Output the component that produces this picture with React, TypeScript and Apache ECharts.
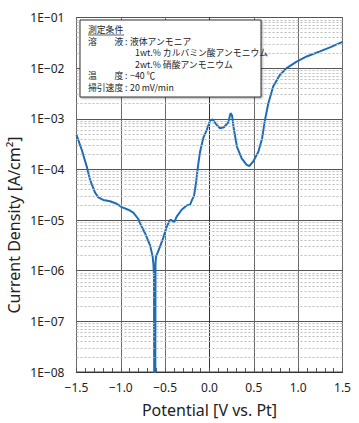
import React, { useEffect, useRef } from "react";
import * as echarts from "echarts";

// Potential [V vs. Pt]
const potential: number[] = [
  -1.5, -1.441, -1.385, -1.348, -1.291, -1.254, -1.198, -1.122, -1.047, -0.99,
  -0.916, -0.859, -0.803, -0.784, -0.727, -0.671, -0.641, -0.632,
  -0.626, -0.623, -0.620, -0.618, -0.615, -0.612, -0.609, -0.603,
  -0.596, -0.558, -0.521, -0.483, -0.446, -0.427, -0.4, -0.37, -0.314, -0.257,
  -0.22, -0.197, -0.175, -0.152, -0.126, -0.107, -0.07, -0.032, 0.006, 0.034,
  0.081, 0.118, 0.163, 0.212, 0.237, 0.254, 0.276, 0.31, 0.363, 0.419,
  0.451, 0.494, 0.55, 0.592, 0.626, 0.663, 0.719, 0.795, 0.87, 0.983,
  1.096, 1.246, 1.359, 1.5,
];
// Current Density [A/cm2]
const current: number[] = [
  4.8e-4, 2.45e-4, 1.15e-4, 6.3e-5, 3.5e-5, 2.8e-5, 2.5e-5, 2.35e-5, 2.1e-5, 1.8e-5,
  1.6e-5, 1.4e-5, 1.05e-5, 8.7e-6, 5.5e-6, 3.2e-6, 1.9e-6, 1.3e-6,
  8e-7, 1e-9, 2e-7, 1e-9, 4e-8, 1e-9, 1.4e-6, 1.9e-6,
  1.9e-6, 3.0e-6, 4.5e-6, 7.4e-6, 1.0e-5, 1.0e-5, 8.9e-6, 1.17e-5, 1.6e-5, 1.95e-5,
  2.0e-5, 2.5e-5, 3.0e-5, 5.4e-5, 1.3e-4, 2.2e-4, 4.2e-4, 6.0e-4, 9.1e-4, 9.8e-4,
  7.6e-4, 6.5e-4, 6.8e-4, 8.5e-4, 1.29e-3, 1.17e-3, 6.0e-4, 2.8e-4, 1.66e-4, 1.23e-4,
  1.17e-4, 1.45e-4, 2.2e-4, 4.0e-4, 9.5e-4, 2.0e-3, 4.4e-3, 7.4e-3, 1.0e-2, 1.35e-2,
  1.7e-2, 2.14e-2, 2.57e-2, 3.3e-2,
];

const yDecades: number[] = [-8, -7, -6, -5, -4, -3, -2, -1];
const minorMultipliers: number[] = [2, 3, 4, 5, 6, 7, 8, 9];

const legendTitle = "測定条件";
const legendRows: { label: string; value: string[] }[] = [
  { label: "溶　　液", value: ["液体アンモニア", "1wt.% カルバミン酸アンモニウム", "2wt.% 硝酸アンモニウム"] },
  { label: "温　　度", value: ["−40 ℃"] },
  { label: "掃引速度", value: ["20 mV/min"] },
];

const xName = "Potential [V vs. Pt]";
const yName = "Current Density [A/cm²]";

export default function App() {
  const ref = useRef<HTMLDivElement>(null);
  useEffect(() => {
    if (!ref.current) return;
    const chart = echarts.init(ref.current, undefined, { renderer: "svg" });
    const data = potential.map((p, i) => [p, current[i]]);
    const minorLines: { yAxis: number }[] = [];
    for (const e of yDecades.slice(0, -1)) {
      for (const m of minorMultipliers) minorLines.push({ yAxis: m * Math.pow(10, e) });
    }
    const font = "Noto Sans";
    const jp = "Noto Sans CJK JP";
    const fs = 8.8;

    const graphic: any[] = [
      {
        type: "rect",
        shape: { x: 80, y: 20, width: 181, height: 77 },
        style: { fill: "#fff", stroke: "#333", lineWidth: 1, shadowBlur: 2, shadowOffsetX: 1, shadowOffsetY: 1, shadowColor: "rgba(0,0,0,0.35)" },
        z: 10,
      },
      {
        type: "text",
        x: 88,
        y: 29.5,
        style: { text: legendTitle, fontSize: fs, fontFamily: jp, fill: "#222", verticalAlign: "middle" },
        z: 11,
      },
      {
        type: "line",
        shape: { x1: 88, y1: 35, x2: 124, y2: 35 },
        style: { stroke: "#333", lineWidth: 0.8 },
        z: 11,
      },
      {
        type: "text",
        x: 14,
        y: 225,
        rotation: Math.PI / 2,
        style: { text: yName, fontSize: 16, fontFamily: font, fill: "#222", align: "center", verticalAlign: "middle" },
        z: 11,
      },
    ];
    let r = 0;
    legendRows.forEach((row) => {
      const y0 = 41 + r * 11.5;
      graphic.push({
        type: "text",
        x: 88,
        y: y0,
        style: { text: row.label, fontSize: fs, fontFamily: jp, fill: "#222", verticalAlign: "middle" },
        z: 11,
      });
      graphic.push({
        type: "text",
        x: 125,
        y: y0,
        style: { text: ":", fontSize: fs, fontFamily: jp, fill: "#222", verticalAlign: "middle" },
        z: 11,
      });
      row.value.forEach((v, j) => {
        graphic.push({
          type: "text",
          x: j === 0 ? 130 : 135,
          y: 41 + (r + j) * 11.5,
          style: { text: v, fontSize: fs, fontFamily: jp, fill: "#222", verticalAlign: "middle" },
          z: 11,
        });
      });
      r += row.value.length;
    });

    chart.setOption({
      animation: false,
      backgroundColor: "#fff",
      grid: { left: 76.5, right: 16.5, top: 17.5, bottom: 50, show: true, borderColor: "#444", borderWidth: 1, containLabel: false },
      xAxis: {
        type: "value",
        min: -1.5,
        max: 1.5,
        interval: 0.5,
        name: xName,
        nameLocation: "middle",
        nameGap: 30,
        nameTextStyle: { fontSize: 16, fontFamily: font, color: "#222" },
        axisLine: { show: true, onZero: false, lineStyle: { color: "#333" } },
        axisTick: { show: true, inside: true, length: 4, lineStyle: { color: "#555" } },
        minorTick: { show: true, splitNumber: 5, length: 4, lineStyle: { color: "#555" } },
        axisLabel: {
          fontSize: 12,
          fontFamily: font,
          color: "#222",
          margin: 9,
          formatter: (v: number) => {
            const s = Math.abs(v).toFixed(1);
            return v < -1e-9 ? "−" + s : s;
          },
        },
        splitLine: { show: true, lineStyle: { color: "#6a6a6a", width: 1 } },
      },
      yAxis: {
        type: "log",
        logBase: 10,
        min: 1e-8,
        max: 1e-1,
        interval: 1,
        axisLine: { show: true, lineStyle: { color: "#333" } },
        axisTick: { show: false },
        axisLabel: {
          fontSize: 12,
          fontFamily: font,
          color: "#222",
          margin: 12,
          formatter: (v: number) => {
            const e = Math.round(Math.log10(v));
            return "1E" + (e < 0 ? "−" : "+") + String(Math.abs(e)).padStart(2, "0");
          },
        },
        splitLine: { show: true, lineStyle: { color: "#555", width: 1 } },
      },
      series: [
        {
          type: "line",
          data: data,
          showSymbol: false,
          silent: true,
          lineStyle: { opacity: 0 },
          z: 1,
          markLine: {
            silent: true,
            symbol: "none",
            precision: 12,
            label: { show: false },
            lineStyle: { color: "#bbb", type: [2, 2], width: 1 },
            data: minorLines,
          },
        },
        {
          type: "line",
          data: data,
          showSymbol: false,
          clip: true,
          lineStyle: { color: "#1d6db5", width: 2 },
          z: 3,
        },
      ],
      graphic,
    });
    return () => chart.dispose();
  }, []);
  return <div ref={ref} style={{ position: "fixed", left: 0, top: 0, width: 359, height: 423 }} />;
}
